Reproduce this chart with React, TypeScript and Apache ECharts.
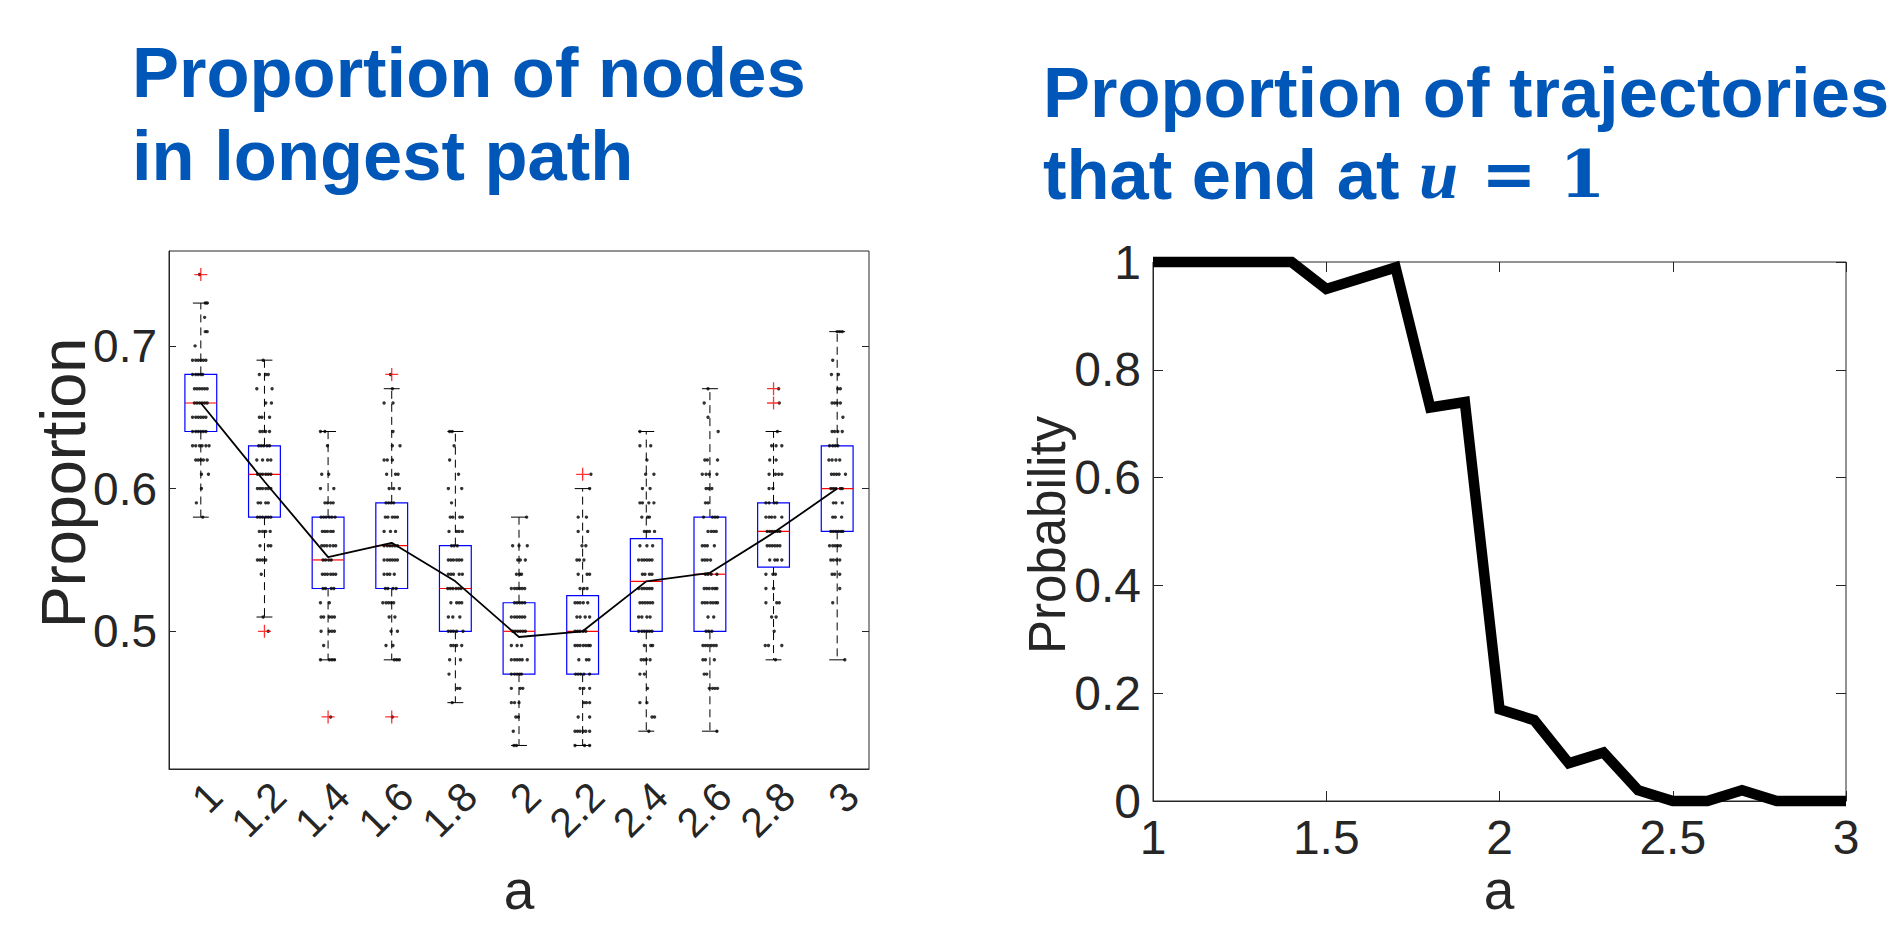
import React, { useEffect, useRef } from "react";
import * as echarts from "echarts";

// ---- Left panel: proportion of nodes in the longest path, per value of a ----
const categories = ["1", "1.2", "1.4", "1.6", "1.8", "2", "2.2", "2.4", "2.6", "2.8", "3"];
const whiskerLow = [0.58, 0.51, 0.48, 0.48, 0.45, 0.42, 0.42, 0.43, 0.43, 0.48, 0.48];
const quartile1 = [0.64, 0.58, 0.53, 0.53, 0.5, 0.47, 0.47, 0.5, 0.5, 0.545, 0.57];
const medians = [0.66, 0.61, 0.55, 0.56, 0.53, 0.5, 0.5, 0.535, 0.54, 0.57, 0.6];
const quartile3 = [0.68, 0.63, 0.58, 0.59, 0.56, 0.52, 0.525, 0.565, 0.58, 0.59, 0.63];
const whiskerHigh = [0.73, 0.69, 0.64, 0.67, 0.64, 0.58, 0.6, 0.64, 0.67, 0.64, 0.71];
const means = [0.66, 0.605, 0.552, 0.562, 0.535, 0.496, 0.5, 0.535, 0.541, 0.569, 0.6];
const outlierCategory = [0, 1, 2, 3, 3, 6, 9, 9];
const outlierValue = [0.75, 0.5, 0.44, 0.68, 0.44, 0.61, 0.67, 0.66];

// Individual runs: each row is [proportion, jitter offsets (in category units)...]
const runsA10 = [
  [0.75, -0.02], [0.73, 0.07, 0.1], [0.72, 0.06], [0.71, 0.07, 0.1], [0.7, -0.09],
  [0.69, -0.13, -0.08, -0.04, 0, 0.04, 0.08], [0.68, -0.13, -0.08, -0.04, 0, 0.03],
  [0.67, -0.1, -0.06, -0.02, 0.02, 0.06, 0.1], [0.66, -0.1, -0.06, -0.02, 0.02, 0.06, 0.1],
  [0.65, -0.13, -0.08, -0.04, 0, 0.04, 0.08], [0.64, -0.13, -0.08, -0.04, 0, 0.04, 0.08],
  [0.63, -0.13, -0.08, -0.02, 0.02, 0.08, 0.13], [0.62, -0.08, -0.04, 0, 0.04, 0.1],
  [0.61, 0.01, 0.12], [0.6, 0.01], [0.59, -0.07], [0.58, 0.03],
];
const runsA12 = [
  [0.69, -0.02], [0.68, -0.08, 0.02, 0.06], [0.67, -0.12, 0.12], [0.66, 0.02, 0.11],
  [0.65, -0.08, -0.04, 0.08], [0.64, -0.07, -0.03, 0.02, 0.08],
  [0.63, -0.09, -0.05, -0.01, 0.04, 0.08], [0.62, -0.12, -0.03, 0.05, 0.1],
  [0.61, -0.11, -0.07, -0.03, 0.02, 0.06, 0.1], [0.6, -0.11, -0.07, -0.03, 0.02, 0.06, 0.1],
  [0.59, -0.1, -0.06, 0.02, 0.06], [0.58, -0.11, -0.07, -0.03, 0.02, 0.06, 0.1],
  [0.57, -0.08, -0.03, 0.02, 0.09], [0.56, -0.07, 0.06, 0.1], [0.55, -0.11, -0.07, -0.03, 0.02],
  [0.54, -0.05], [0.51, -0.02], [0.5, 0.06],
];
const runsA14 = [
  [0.64, -0.12, -0.05], [0.63, -0.01], [0.61, -0.1, 0.01], [0.6, -0.12, 0.09],
  [0.59, -0.05, -0.01, 0.04, 0.08], [0.58, -0.11, -0.07, -0.03, 0.02, 0.06, 0.11],
  [0.57, -0.09, -0.05, -0.01, 0.04, 0.08], [0.56, -0.1, -0.06, -0.02, 0.03, 0.08, 0.12],
  [0.55, -0.08, -0.04, 0.01, 0.05], [0.54, -0.09, -0.05, -0.01, 0.04, 0.08, 0.12],
  [0.53, -0.08, -0.04, 0.05, 0.09], [0.52, -0.12, 0.02], [0.51, -0.11, -0.07, 0.02, 0.06, 0.1],
  [0.5, -0.11, 0.02, 0.06, 0.1], [0.49, -0.07], [0.48, -0.12, 0.02, 0.06, 0.1], [0.44, 0.04],
];
const runsA16 = [
  [0.68, -0.02], [0.67, 0.01], [0.66, -0.12, 0.02], [0.64, 0.02], [0.63, 0.01, 0.13],
  [0.62, -0.12, -0.07, 0.01], [0.61, -0.08, 0.06, 0.1], [0.6, -0.04, 0.03, 0.12],
  [0.59, -0.09, -0.05, -0.01, 0.03], [0.58, -0.1, -0.06, 0.01, 0.05, 0.09],
  [0.57, -0.12, -0.02, 0.06], [0.56, -0.12, -0.07, -0.03, 0.01, 0.05, 0.09],
  [0.55, -0.12, -0.07, -0.03, 0.01, 0.05, 0.09], [0.54, -0.12, -0.07, -0.03, 0.04],
  [0.53, -0.1, -0.06, 0.02, 0.07], [0.52, -0.14, -0.09, -0.05, -0.01, 0.03],
  [0.51, -0.04, 0.05], [0.5, -0.01, 0.09], [0.49, -0.09, 0.02], [0.48, 0.04, 0.08, 0.12], [0.44, 0.01],
];
const runsA18 = [
  [0.64, -0.09, -0.05], [0.63, -0.02], [0.62, -0.09], [0.61, 0.05], [0.6, -0.11, 0.1], [0.59, -0.06],
  [0.58, -0.08, -0.04, 0.07, 0.11], [0.57, -0.1, 0.02, 0.06, 0.11], [0.56, -0.06, -0.02, 0.03],
  [0.55, -0.11, -0.07, -0.03, 0.02, 0.06, 0.1], [0.54, -0.11, -0.07, -0.03, 0.06, 0.11],
  [0.53, -0.12, -0.08, -0.04, 0.01, 0.05, 0.09], [0.52, -0.07, 0.02, 0.06, 0.1],
  [0.51, -0.11, -0.04, 0.07], [0.5, -0.11, -0.07, -0.03, 0.02, 0.12], [0.49, -0.07, -0.03, 0.02, 0.1],
  [0.48, -0.09, 0.08], [0.47, -0.1], [0.46, 0.03, 0.07], [0.45, -0.05],
];
const runsA20 = [
  [0.58, 0.12], [0.56, -0.1, 0, 0.13], [0.55, -0.02, 0.02, 0.1], [0.54, -0.04, 0.01, 0.04],
  [0.53, -0.12, -0.07, -0.03, 0.01, 0.05, 0.09], [0.52, -0.07, -0.03, 0.01, 0.05, 0.09],
  [0.51, -0.12, -0.07, -0.03, 0.01, 0.05, 0.09], [0.5, -0.1, -0.06, -0.02, 0.02, 0.06, 0.1],
  [0.49, -0.12, -0.03, 0.04], [0.48, -0.12, -0.07, -0.03, 0.01, 0.05, 0.13],
  [0.47, -0.12, -0.07, -0.03, 0.01, 0.04], [0.46, -0.12, 0.02, 0.06], [0.45, -0.12, -0.07, 0],
  [0.44, -0.05, -0.01], [0.43, -0.09], [0.42, -0.08, -0.04],
];
const runsA22 = [
  [0.61, 0.13], [0.6, 0.11], [0.58, -0.07, 0.06], [0.57, -0.07, 0.08], [0.56, -0.01, 0.05],
  [0.55, -0.09, -0.05, 0.02], [0.54, -0.07, 0.07, 0.11], [0.53, -0.04, 0.02, 0.07],
  [0.52, -0.12, -0.08, -0.04, 0.01, 0.08], [0.51, -0.09, -0.04, 0.04, 0.11],
  [0.5, -0.12, -0.08, -0.04, 0.01, 0.05], [0.49, -0.12, -0.08, -0.04, 0.01, 0.05, 0.09, 0.12],
  [0.48, -0.06, 0.06, 0.1], [0.47, -0.11, -0.07, -0.03, 0.02, 0.11], [0.46, -0.04, 0.02, 0.11],
  [0.45, 0.02, 0.06, 0.11], [0.44, -0.07, 0.11], [0.43, -0.12, -0.08, -0.04, 0.01, 0.05, 0.11],
  [0.42, -0.12, 0.03, 0.11],
];
const runsA24 = [
  [0.64, -0.1], [0.63, -0.1, 0.07], [0.62, 0.01], [0.61, -0.01, 0.12], [0.6, -0.06, 0.06],
  [0.59, -0.1, -0.06, 0.04, 0.12], [0.58, -0.07, 0.02, 0.05], [0.57, -0.03, 0.01, 0.05, 0.13],
  [0.56, -0.1, 0.01, 0.1], [0.55, -0.12, -0.07, -0.03, 0.01, 0.05, 0.09],
  [0.54, -0.06, -0.02, 0.05, 0.09], [0.53, -0.12, -0.07, -0.03, 0.01, 0.05, 0.09],
  [0.52, -0.1, -0.06, -0.02, 0.02, 0.06, 0.1], [0.51, -0.12, -0.07, 0.01, 0.06],
  [0.5, -0.12, -0.07, -0.03, 0.01, 0.05, 0.09], [0.49, -0.03, 0.07, 0.1],
  [0.48, -0.08, -0.04, 0, 0.06], [0.47, -0.1, -0.03], [0.46, 0.02], [0.45, -0.1, 0.01],
  [0.44, 0.09, 0.13], [0.43, 0.04],
];
const runsA26 = [
  [0.67, -0.03], [0.66, -0.09], [0.65, -0.03], [0.64, 0.13], [0.62, -0.08, -0.04, 0.12],
  [0.61, -0.12, -0.06, -0.01, 0.11], [0.6, -0.06, -0.02, 0.03], [0.59, -0.07, -0.03],
  [0.58, -0.1, 0.04, 0.08, 0.12], [0.57, -0.03, 0.02, 0.06, 0.1], [0.56, -0.12, -0.08, -0.04, 0.07],
  [0.55, -0.12, -0.08, -0.04, 0.01], [0.54, -0.07, -0.03, 0.02, 0.11],
  [0.53, -0.09, -0.05, -0.01, 0.04, 0.08, 0.11], [0.52, -0.12, -0.08, -0.04, 0.01, 0.05, 0.09, 0.12],
  [0.51, -0.03, 0.06], [0.5, -0.06, -0.02, 0.03], [0.49, -0.11, -0.07, -0.03, 0.02, 0.06, 0.1],
  [0.48, -0.11, -0.07, 0.07], [0.47, -0.09, -0.05], [0.46, -0.01, 0.04, 0.08, 0.12], [0.43, 0.11],
];
const runsA28 = [
  [0.67, 0.08], [0.66, 0.09], [0.64, 0.06], [0.63, -0.03, 0.04, 0.13], [0.62, -0.06, 0.04],
  [0.61, -0.07, 0.03, 0.08, 0.13], [0.6, -0.07, -0.01], [0.59, -0.12, -0.07, 0.01, 0.05],
  [0.58, -0.12, -0.07, -0.03, 0.02, 0.13], [0.57, -0.1, -0.06, -0.02, 0.02, 0.06, 0.1],
  [0.56, -0.1, -0.06, -0.02, 0.02, 0.06, 0.1], [0.55, -0.06, 0.02, 0.06, 0.13],
  [0.54, -0.12, -0.01, 0.03], [0.53, -0.12, 0], [0.52, -0.12, 0.05, 0.09], [0.51, -0.03, 0.04],
  [0.5, 0.01], [0.49, -0.13, -0.08, 0.13], [0.48, 0.03],
];
const runsA30 = [
  [0.71, 0, 0.04, 0.08], [0.69, -0.07], [0.68, -0.09, 0.02], [0.67, 0.01, 0.05],
  [0.66, -0.08, -0.04, 0, 0.05], [0.65, 0.09], [0.64, -0.08, -0.04, 0.01, 0.08],
  [0.63, -0.12, -0.07, -0.03, 0.01], [0.62, -0.13, -0.08, -0.02, 0.04],
  [0.61, -0.09, -0.05, -0.01, 0.03, 0.13], [0.6, -0.1, -0.06, -0.02, 0.05, 0.08],
  [0.59, -0.06, -0.02, 0.08], [0.58, -0.07, -0.03, 0.07], [0.57, -0.1, -0.06, -0.02, 0.02, 0.06, 0.09],
  [0.56, -0.12, -0.07, -0.03, 0.01, 0.05], [0.55, -0.1, -0.06, -0.01, 0.04], [0.54, -0.08, -0.04, 0.04],
  [0.53, 0.04], [0.52, -0.07], [0.48, 0.12],
];
const runsByCategory = [runsA10, runsA12, runsA14, runsA16, runsA18, runsA20, runsA22, runsA24, runsA26, runsA28, runsA30];

// ---- Right panel: probability that a trajectory ends at u = 1 ----
const aSteps = [1, 1.1, 1.2, 1.3, 1.4, 1.5, 1.6, 1.7, 1.8, 1.9, 2, 2.1, 2.2, 2.3, 2.4, 2.5, 2.6, 2.7, 2.8, 2.9, 3];
const endProbability = [1, 1, 1, 1, 1, 0.95, 0.97, 0.99, 0.73, 0.74, 0.17, 0.15, 0.07, 0.09, 0.02, 0, 0, 0.02, 0, 0, 0];

const AXIS_FONT = '"Liberation Sans", Arial, sans-serif';
const TITLE_FONT = '"Liberation Sans", Arial, sans-serif';
const MATH_ITALIC_FONT = '"Liberation Serif", "DejaVu Serif", serif';
const MATH_FONT = '"DejaVu Serif", "Liberation Serif", serif';
const INK = "#262626";
const TITLE_BLUE = "#0057B8";
const TITLE_SIZE = 70.5;
const PLUS_PATH = "path://M4.5,0h1v4.5h4.5v1h-4.5v4.5h-1v-4.5h-4.5v-1h4.5z";

export default function App() {
  const ref = useRef<HTMLDivElement>(null);

  useEffect(() => {
    document.body.style.margin = "0";
    if (!ref.current) return;
    const chart = echarts.init(ref.current, null, { renderer: "svg" });

    const boxData = categories.map((_, i) => [i, whiskerLow[i], quartile1[i], medians[i], quartile3[i], whiskerHigh[i]]);
    const runPoints: number[][] = [];
    runsByCategory.forEach((rows, i) => {
      rows.forEach((row) => {
        for (let k = 1; k < row.length; k++) runPoints.push([i + row[k], row[0]]);
      });
    });
    const outliers = outlierCategory.map((c, i) => [c, outlierValue[i]]);
    const probLine = aSteps.map((a, i) => [a, endProbability[i]]);

    const leftTicks = [0.5, 0.6, 0.7];
    const titleStyle = (text: string) => ({
      text,
      font: `bold ${TITLE_SIZE}px ${TITLE_FONT}`,
      fill: TITLE_BLUE,
      textAlign: "left",
      textVerticalAlign: "middle",
    });

    const option: any = {
      animation: false,
      backgroundColor: "#ffffff",
      grid: [
        { left: 169, top: 251, width: 700, height: 518, show: true, borderColor: INK, borderWidth: 1, backgroundColor: "transparent" },
        { left: 1153, top: 262, width: 693, height: 539, show: true, borderColor: INK, borderWidth: 1, backgroundColor: "transparent" },
      ],
      xAxis: [
        {
          gridIndex: 0, type: "category", data: categories, position: "bottom", boundaryGap: true,
          axisLine: { onZero: false, lineStyle: { color: INK, width: 1 } },
          axisTick: { inside: true, alignWithLabel: true, interval: 0, length: 7, lineStyle: { color: INK } },
          axisLabel: { interval: 0, rotate: 45, align: "right", verticalAlign: "top", margin: 6, fontSize: 41, color: INK, fontFamily: AXIS_FONT },
          splitLine: { show: false },
        },
        { gridIndex: 0, type: "value", min: -0.5, max: 10.5, show: false, axisLine: { onZero: false } },
        {
          gridIndex: 0, type: "category", data: categories, position: "top", boundaryGap: true,
          axisLine: { show: false, onZero: false },
          axisTick: { inside: true, alignWithLabel: true, interval: 0, length: 7, lineStyle: { color: INK } },
          axisLabel: { show: false }, splitLine: { show: false },
        },
        {
          gridIndex: 1, type: "value", min: 1, max: 3, interval: 0.5, position: "bottom",
          axisLine: { onZero: false, lineStyle: { color: INK, width: 1 } },
          axisTick: { inside: true, length: 10, lineStyle: { color: INK } },
          axisLabel: { showMinLabel: true, showMaxLabel: true, margin: 12, fontSize: 48, color: INK, fontFamily: AXIS_FONT },
          splitLine: { show: false },
        },
        {
          gridIndex: 1, type: "value", min: 1, max: 3, interval: 0.5, position: "top",
          axisLine: { show: false, onZero: false },
          axisTick: { inside: true, length: 10, lineStyle: { color: INK } },
          axisLabel: { show: false }, splitLine: { show: false },
        },
      ],
      yAxis: [
        {
          gridIndex: 0, type: "value", min: 0.4035, max: 0.7665, position: "left",
          axisLine: { show: true, onZero: false, lineStyle: { color: INK, width: 1 } },
          axisTick: { show: true, inside: true, length: 7, customValues: leftTicks, lineStyle: { color: INK } },
          axisLabel: { customValues: leftTicks, margin: 12, fontSize: 46, color: INK, fontFamily: AXIS_FONT },
          splitLine: { show: false },
        },
        {
          gridIndex: 0, type: "value", min: 0.4035, max: 0.7665, position: "right",
          axisLine: { show: false, onZero: false },
          axisTick: { show: true, inside: true, length: 7, customValues: leftTicks, lineStyle: { color: INK } },
          axisLabel: { show: false }, splitLine: { show: false },
        },
        {
          gridIndex: 1, type: "value", min: 0, max: 1, interval: 0.2, position: "left",
          axisLine: { show: true, onZero: false, lineStyle: { color: INK, width: 1 } },
          axisTick: { show: true, inside: true, length: 10, lineStyle: { color: INK } },
          axisLabel: { showMinLabel: true, showMaxLabel: true, margin: 12, fontSize: 48, color: INK, fontFamily: AXIS_FONT },
          splitLine: { show: false },
        },
        {
          gridIndex: 1, type: "value", min: 0, max: 1, interval: 0.2, position: "right",
          axisLine: { show: false, onZero: false },
          axisTick: { show: true, inside: true, length: 10, lineStyle: { color: INK } },
          axisLabel: { show: false }, splitLine: { show: false },
        },
      ],
      series: [
        {
          type: "custom",
          name: "boxes",
          xAxisIndex: 0,
          yAxisIndex: 0,
          z: 2,
          silent: true,
          encode: { x: 0, y: [1, 2, 3, 4, 5] },
          data: boxData,
          renderItem: (_params: any, api: any) => {
            const idx = api.value(0);
            const lo = api.coord([idx, api.value(1)]);
            const q1 = api.coord([idx, api.value(2)]);
            const md = api.coord([idx, api.value(3)]);
            const q3 = api.coord([idx, api.value(4)]);
            const hi = api.coord([idx, api.value(5)]);
            const slot = api.size([1, 0])[0];
            const half = slot * 0.25;
            const cap = slot * 0.125;
            const x = lo[0];
            const dash = { stroke: "#000", lineWidth: 1, lineDash: [8, 5], fill: "none" };
            const solid = { stroke: "#000", lineWidth: 1, fill: "none" };
            return {
              type: "group",
              children: [
                { type: "line", shape: { x1: x, y1: q3[1], x2: x, y2: hi[1] }, style: dash },
                { type: "line", shape: { x1: x, y1: q1[1], x2: x, y2: lo[1] }, style: dash },
                { type: "line", shape: { x1: x - cap, y1: hi[1], x2: x + cap, y2: hi[1] }, style: solid },
                { type: "line", shape: { x1: x - cap, y1: lo[1], x2: x + cap, y2: lo[1] }, style: solid },
                { type: "rect", shape: { x: x - half, y: q3[1], width: half * 2, height: q1[1] - q3[1] }, style: { stroke: "#0000FF", lineWidth: 1.2, fill: "none" } },
                { type: "line", shape: { x1: x - half, y1: md[1], x2: x + half, y2: md[1] }, style: { stroke: "#FF0000", lineWidth: 1.2 } },
              ],
            };
          },
        },
        {
          type: "scatter",
          name: "runs",
          xAxisIndex: 1,
          yAxisIndex: 0,
          z: 3,
          silent: true,
          symbol: "circle",
          symbolSize: 3.4,
          itemStyle: { color: "#000" },
          data: runPoints,
        },
        {
          type: "scatter",
          name: "outliers",
          xAxisIndex: 0,
          yAxisIndex: 0,
          z: 4,
          silent: true,
          symbol: PLUS_PATH,
          symbolSize: 13,
          itemStyle: { color: "#FF0000" },
          data: outliers,
        },
        {
          type: "line",
          name: "mean",
          xAxisIndex: 0,
          yAxisIndex: 0,
          z: 5,
          silent: true,
          symbol: "none",
          lineStyle: { color: "#000", width: 1.8 },
          data: means,
        },
        {
          type: "line",
          name: "probability",
          xAxisIndex: 3,
          yAxisIndex: 2,
          z: 5,
          silent: true,
          clip: false,
          symbol: "none",
          lineStyle: { color: "#000", width: 10.5, join: "miter", cap: "butt" },
          data: probLine,
        },
      ],
      graphic: [
        { type: "text", x: 132, y: 72, style: titleStyle("Proportion of nodes") },
        { type: "text", x: 132, y: 155, style: titleStyle("in longest path") },
        { type: "text", x: 1043, y: 92, style: titleStyle("Proportion of trajectories") },
        {
          type: "text", x: 1043, y: 174,
          style: {
            text: "{n|that end at }{m|u}{e| = 1}",
            fill: TITLE_BLUE,
            textAlign: "left",
            textVerticalAlign: "middle",
            rich: {
              n: { fontFamily: TITLE_FONT, fontWeight: "bold", fontSize: TITLE_SIZE, fill: TITLE_BLUE },
              m: { fontFamily: MATH_ITALIC_FONT, fontStyle: "italic", fontWeight: "bold", fontSize: TITLE_SIZE, fill: TITLE_BLUE },
              e: { fontFamily: MATH_FONT, fontWeight: "bold", fontSize: 66, fill: TITLE_BLUE },
            },
          },
        },
        {
          type: "text", x: 63, y: 483, rotation: Math.PI / 2,
          style: { text: "Proportion", font: `63px ${AXIS_FONT}`, fill: INK, textAlign: "center", textVerticalAlign: "middle" },
        },
        {
          type: "text", x: 1047, y: 535, rotation: Math.PI / 2,
          style: { text: "Probability", font: `51px ${AXIS_FONT}`, fill: INK, textAlign: "center", textVerticalAlign: "middle" },
        },
        {
          type: "text", x: 519, y: 890,
          style: { text: "a", font: `55px ${AXIS_FONT}`, fill: INK, textAlign: "center", textVerticalAlign: "middle" },
        },
        {
          type: "text", x: 1499, y: 890,
          style: { text: "a", font: `55px ${AXIS_FONT}`, fill: INK, textAlign: "center", textVerticalAlign: "middle" },
        },
      ],
    };

    chart.setOption(option);
    return () => chart.dispose();
  }, []);

  return <div ref={ref} style={{ width: 1888, height: 925 }} />;
}
